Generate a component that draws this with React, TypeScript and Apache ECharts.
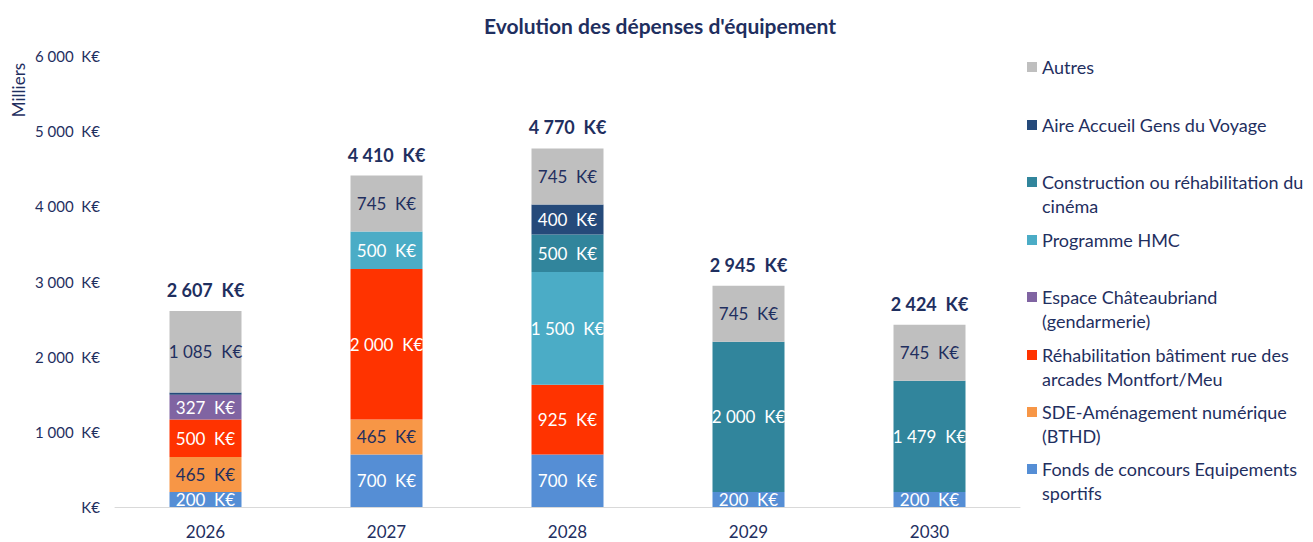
import React, { useEffect, useRef } from "react";
import * as echarts from "echarts";

const years = ["2026", "2027", "2028", "2029", "2030"];

const fondsConcours = [200, 700, 700, 200, 200];
const sdeAmenagement = [465, 465, 0, 0, 0];
const rehabArcades = [500, 2000, 925, 0, 0];
const espaceChateaubriand = [327, 0, 0, 0, 0];
const programmeHMC = [0, 500, 1500, 0, 0];
const cinema = [0, 0, 500, 2000, 1479];
const aireAccueil = [30, 0, 400, 0, 0];
const autres = [1085, 745, 745, 745, 745];

const yTicks = [0, 1000, 2000, 3000, 4000, 5000, 6000];

const seriesDefs = [
  { name: "Fonds de concours Equipements sportifs", legend: "Fonds de concours Equipements\nsportifs", data: fondsConcours, color: "#558ED5", label: "#FFFFFF" },
  { name: "SDE-Aménagement numérique (BTHD)", legend: "SDE-Aménagement numérique\n(BTHD)", data: sdeAmenagement, color: "#F79646", label: "#1F2F5F" },
  { name: "Réhabilitation bâtiment rue des arcades Montfort/Meu", legend: "Réhabilitation bâtiment rue des\narcades Montfort/Meu", data: rehabArcades, color: "#FF3300", label: "#FFFFFF" },
  { name: "Espace Châteaubriand (gendarmerie)", legend: "Espace Châteaubriand\n(gendarmerie)", data: espaceChateaubriand, color: "#8064A2", label: "#FFFFFF" },
  { name: "Programme HMC", legend: "Programme HMC", data: programmeHMC, color: "#4BACC6", label: "#FFFFFF" },
  { name: "Construction ou réhabilitation du cinéma", legend: "Construction ou réhabilitation du\ncinéma", data: cinema, color: "#31859C", label: "#FFFFFF" },
  { name: "Aire Accueil Gens du Voyage", legend: "Aire Accueil Gens du Voyage", data: aireAccueil, color: "#254A7A", label: "#FFFFFF" },
  { name: "Autres", legend: "Autres", data: autres, color: "#BFBFBF", label: "#1F2F5F" },
];

const totals = years.map((_, i) => seriesDefs.reduce((s, d) => s + d.data[i], 0));

const NAVY = "#1F2F5F";
const FONT = "Lato, 'Open Sans', sans-serif";

function fmt(v: number): string {
  if (v === 0) return "";
  const s = String(Math.round(v));
  return s.replace(/\B(?=(\d{3})+(?!\d))/g, " ");
}

export default function App() {
  const ref = useRef<HTMLDivElement>(null);
  useEffect(() => {
    if (!ref.current) return;
    const chart = echarts.init(ref.current, null, { renderer: "svg" });

    const legendTops = [470, 413, 356, 298, 241, 183, 126, 68];

    const series: any[] = seriesDefs.map((d) => ({
      name: d.name,
      type: "bar",
      stack: "total",
      barWidth: 72,
      data: d.data,
      itemStyle: { color: d.color },
      label: {
        show: true,
        position: "inside",
        color: d.label,
        fontFamily: FONT,
        fontSize: 17,
        formatter: (p: any) => (p.value >= 100 ? `${fmt(p.value)}  K€` : ""),
      },
    }));
    series.push({
      name: "Total",
      type: "bar",
      stack: "total",
      barWidth: 72,
      data: years.map(() => 0),
      itemStyle: { color: "transparent" },
      label: {
        show: true,
        position: "top",
        distance: 12,
        color: NAVY,
        fontFamily: FONT,
        fontWeight: "bold",
        fontSize: 18,
        formatter: (p: any) => `${fmt(totals[p.dataIndex])}  K€`,
      },
    });

    const legends = seriesDefs.map((d, i) => {
      const multi = d.legend.includes("\n");
      return {
        orient: "vertical",
        left: 1022,
        top: multi ? legendTops[i] - 42 : legendTops[i] - 18,
        icon: "rect",
        itemWidth: 10,
        itemHeight: 10,
        itemGap: 0,
        data: [d.name],
        selectedMode: false,
        formatter: () => (multi ? "\n" + d.legend : d.legend),
        textStyle: { color: NAVY, fontFamily: FONT, fontSize: 18, lineHeight: 24 },
      };
    });

    chart.setOption({
      animation: false,
      backgroundColor: "#FFFFFF",
      title: {
        text: "Evolution des dépenses d'équipement",
        left: 655,
        textAlign: "center",
        top: 10,
        textStyle: { color: NAVY, fontFamily: FONT, fontWeight: "bold", fontSize: 21 },
      },
      grid: { left: 115, right: 293, top: 56, bottom: 35, containLabel: false },
      legend: legends,
      xAxis: {
        type: "category",
        data: years,
        axisTick: { show: false },
        axisLine: { lineStyle: { color: "#D9D9D9" } },
        axisLabel: { color: NAVY, fontFamily: FONT, fontSize: 17, margin: 16 },
      },
      yAxis: {
        type: "value",
        min: yTicks[0],
        max: yTicks[yTicks.length - 1],
        interval: 1000,
        splitLine: { show: false },
        axisLine: { show: false },
        axisTick: { show: false },
        axisLabel: {
          color: NAVY,
          fontFamily: FONT,
          fontSize: 15,
          margin: 15,
          formatter: (v: number) => (v === 0 ? "K€" : `${fmt(v)}  K€`),
        },
      },
      graphic: [
        {
          type: "text",
          x: 18,
          y: 90,
          rotation: Math.PI / 2,
          style: {
            text: "Milliers",
            fill: NAVY,
            font: `17px ${FONT}`,
            align: "center",
            verticalAlign: "middle",
          },
        },
      ],
      series,
    });
    return () => chart.dispose();
  }, []);
  return (
    <div
      ref={ref}
      style={{ position: "absolute", left: 0, top: 0, width: 1313, height: 542 }}
    />
  );
}
